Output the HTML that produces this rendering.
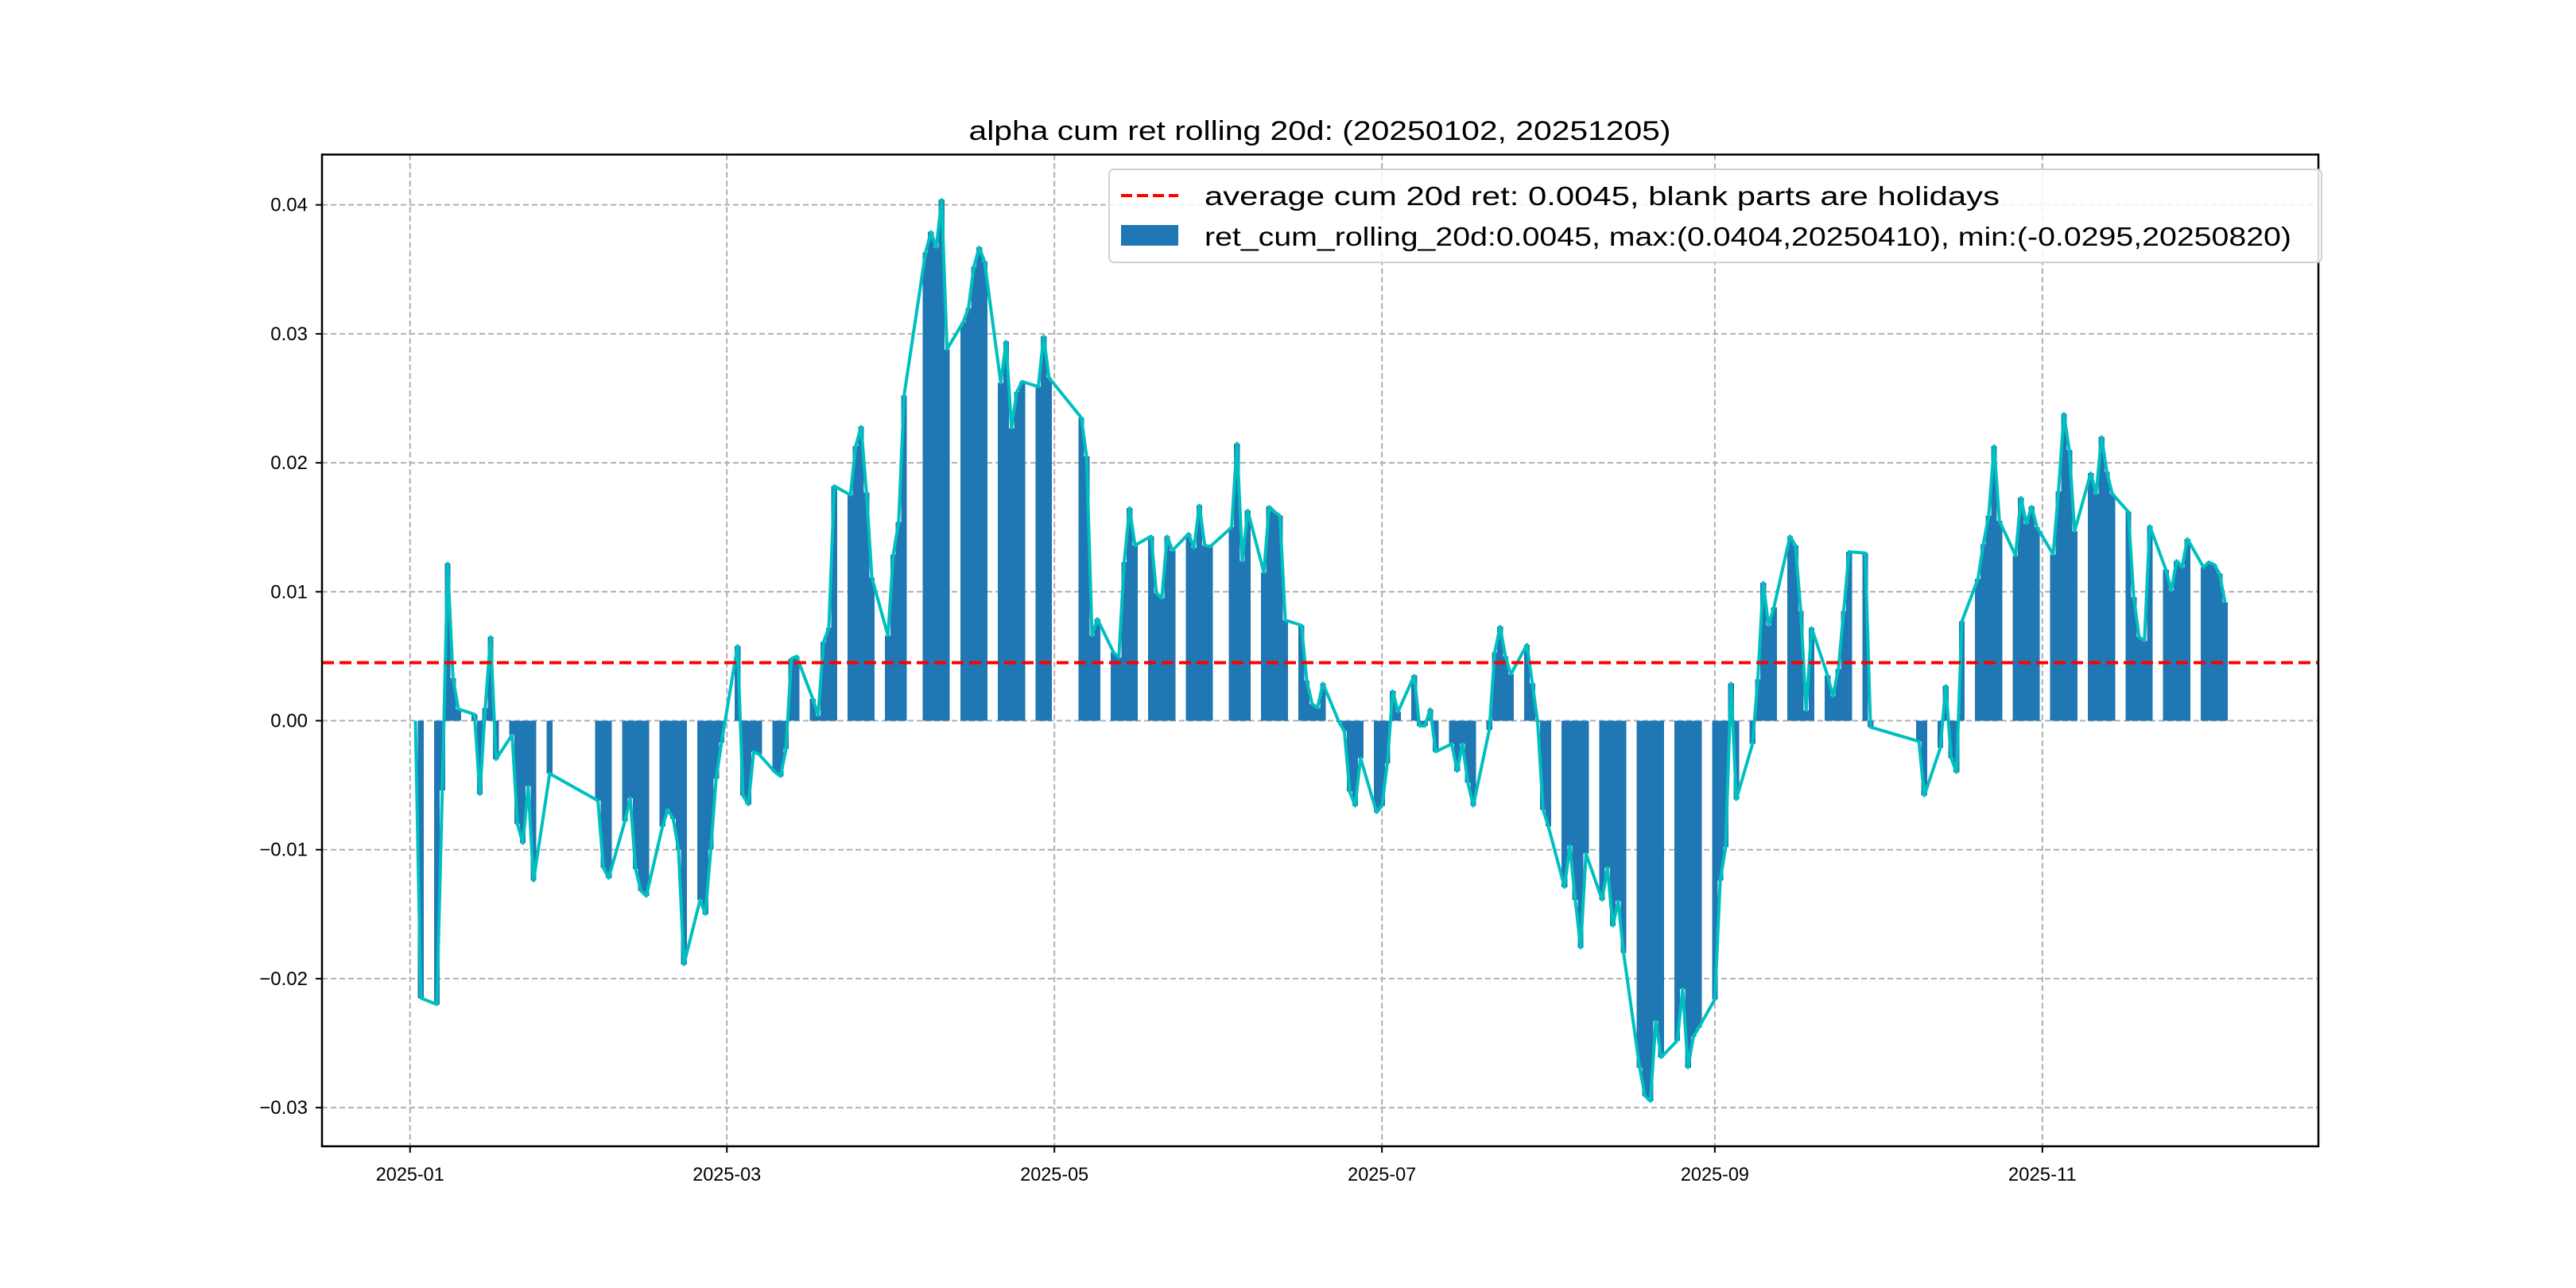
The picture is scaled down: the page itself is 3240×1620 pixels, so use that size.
<!DOCTYPE html>
<html><head><meta charset="utf-8"><style>
html,body{margin:0;padding:0;background:#fff;}
svg{display:block;font-family:"Liberation Sans","Noto Sans CJK SC",sans-serif;}
</style></head><body>
<svg id="chart" width="3240" height="1620" viewBox="0 0 3240 1620" xmlns="http://www.w3.org/2000/svg">
<rect width="3240" height="1620" fill="#fff"/>
<text x="1660" y="176" font-size="34" text-anchor="middle" textLength="883" lengthAdjust="spacingAndGlyphs">alpha cum ret rolling 20d: (20250102, 20251205)</text>
<g id="grid"></g>
<g id="bars" shape-rendering="crispEdges"></g>
<g id="lines"></g>
<g id="axes"></g>
<g id="legend">
<rect x="1395" y="213" width="1525" height="117" rx="6" fill="#fff" fill-opacity="0.85" stroke="#d0d0d0" stroke-width="2"/>
<line x1="1410" y1="246" x2="1482" y2="246" stroke="#ff0000" stroke-width="4" stroke-dasharray="14,6"/>
<text x="1515" y="258" font-size="33" textLength="1000" lengthAdjust="spacingAndGlyphs">average cum 20d ret: 0.0045, blank parts are holidays</text>
<rect x="1410" y="283" width="72" height="26" fill="#1f77b4"/>
<text x="1515" y="309" font-size="33" textLength="1367" lengthAdjust="spacingAndGlyphs">ret_cum_rolling_20d:0.0045, max:(0.0404,20250410), min:(-0.0295,20250820)</text>
</g>
</svg>
<script>
const dates = ["2025-01-02","2025-01-03","2025-01-06","2025-01-07","2025-01-08","2025-01-09","2025-01-10","2025-01-13","2025-01-14","2025-01-15","2025-01-16","2025-01-17","2025-01-20","2025-01-21","2025-01-22","2025-01-23","2025-01-24","2025-01-27","2025-02-05","2025-02-06","2025-02-07","2025-02-10","2025-02-11","2025-02-12","2025-02-13","2025-02-14","2025-02-17","2025-02-18","2025-02-19","2025-02-20","2025-02-21","2025-02-24","2025-02-25","2025-02-26","2025-02-27","2025-02-28","2025-03-03","2025-03-04","2025-03-05","2025-03-06","2025-03-07","2025-03-10","2025-03-11","2025-03-12","2025-03-13","2025-03-14","2025-03-17","2025-03-18","2025-03-19","2025-03-20","2025-03-21","2025-03-24","2025-03-25","2025-03-26","2025-03-27","2025-03-28","2025-03-31","2025-04-01","2025-04-02","2025-04-03","2025-04-07","2025-04-08","2025-04-09","2025-04-10","2025-04-11","2025-04-14","2025-04-15","2025-04-16","2025-04-17","2025-04-18","2025-04-21","2025-04-22","2025-04-23","2025-04-24","2025-04-25","2025-04-28","2025-04-29","2025-04-30","2025-05-06","2025-05-07","2025-05-08","2025-05-09","2025-05-12","2025-05-13","2025-05-14","2025-05-15","2025-05-16","2025-05-19","2025-05-20","2025-05-21","2025-05-22","2025-05-23","2025-05-26","2025-05-27","2025-05-28","2025-05-29","2025-05-30","2025-06-03","2025-06-04","2025-06-05","2025-06-06","2025-06-09","2025-06-10","2025-06-11","2025-06-12","2025-06-13","2025-06-16","2025-06-17","2025-06-18","2025-06-19","2025-06-20","2025-06-23","2025-06-24","2025-06-25","2025-06-26","2025-06-27","2025-06-30","2025-07-01","2025-07-02","2025-07-03","2025-07-04","2025-07-07","2025-07-08","2025-07-09","2025-07-10","2025-07-11","2025-07-14","2025-07-15","2025-07-16","2025-07-17","2025-07-18","2025-07-21","2025-07-22","2025-07-23","2025-07-24","2025-07-25","2025-07-28","2025-07-29","2025-07-30","2025-07-31","2025-08-01","2025-08-04","2025-08-05","2025-08-06","2025-08-07","2025-08-08","2025-08-11","2025-08-12","2025-08-13","2025-08-14","2025-08-15","2025-08-18","2025-08-19","2025-08-20","2025-08-21","2025-08-22","2025-08-25","2025-08-26","2025-08-27","2025-08-28","2025-08-29","2025-09-01","2025-09-02","2025-09-03","2025-09-04","2025-09-05","2025-09-08","2025-09-09","2025-09-10","2025-09-11","2025-09-12","2025-09-15","2025-09-16","2025-09-17","2025-09-18","2025-09-19","2025-09-22","2025-09-23","2025-09-24","2025-09-25","2025-09-26","2025-09-29","2025-09-30","2025-10-09","2025-10-10","2025-10-13","2025-10-14","2025-10-15","2025-10-16","2025-10-17","2025-10-20","2025-10-21","2025-10-22","2025-10-23","2025-10-24","2025-10-27","2025-10-28","2025-10-29","2025-10-30","2025-10-31","2025-11-03","2025-11-04","2025-11-05","2025-11-06","2025-11-07","2025-11-10","2025-11-11","2025-11-12","2025-11-13","2025-11-14","2025-11-17","2025-11-18","2025-11-19","2025-11-20","2025-11-21","2025-11-24","2025-11-25","2025-11-26","2025-11-27","2025-11-28","2025-12-01","2025-12-02","2025-12-03","2025-12-04","2025-12-05"];
const values = [0,-0.0215,-0.022,-0.0054,0.0122,0.0033,0.0009,0.0005,-0.0057,0.001,0.0065,-0.003,-0.0011,-0.008,-0.0095,-0.0051,-0.0124,-0.0041,-0.0062,-0.0114,-0.0122,-0.0078,-0.006,-0.0115,-0.0132,-0.0136,-0.0082,-0.0069,-0.0076,-0.01,-0.0189,-0.0139,-0.015,-0.01,-0.0045,-0.0017,0.0058,-0.0058,-0.0065,-0.0024,-0.0026,-0.004,-0.0043,-0.0022,0.0048,0.005,0.0017,0.0004,0.0061,0.0072,0.0182,0.0175,0.0213,0.0228,0.0177,0.0111,0.0066,0.0129,0.0154,0.0252,0.0363,0.0379,0.0367,0.0404,0.0288,0.0309,0.032,0.0352,0.0367,0.0356,0.0262,0.0294,0.0227,0.0255,0.0263,0.0259,0.0298,0.0266,0.0235,0.0205,0.0066,0.0079,0.0053,0.0049,0.0123,0.0165,0.0136,0.0143,0.0099,0.0095,0.0143,0.0132,0.0145,0.0134,0.0167,0.0136,0.0135,0.015,0.0215,0.0124,0.0163,0.0115,0.0166,0.0162,0.0159,0.0078,0.0074,0.0031,0.0013,0.001,0.0029,-0.0001,-0.0008,-0.0055,-0.0066,-0.0029,-0.0071,-0.0066,-0.0033,0.0023,0.0007,0.0035,-0.0004,-0.0004,0.0009,-0.0024,-0.0018,-0.0039,-0.0018,-0.0048,-0.0066,-0.0007,0.0053,0.0073,0.005,0.0036,0.0059,0.0029,-0.0001,-0.0069,-0.0082,-0.0129,-0.0097,-0.0139,-0.0176,-0.0103,-0.0139,-0.0114,-0.0159,-0.014,-0.018,-0.0269,-0.0291,-0.0295,-0.0233,-0.0261,-0.0248,-0.0208,-0.0269,-0.0245,-0.0238,-0.0216,-0.0124,-0.0098,0.0029,-0.0061,-0.0018,0.0032,0.0107,0.0074,0.0088,0.0143,0.0136,0.0085,0.0008,0.0072,0.0035,0.0019,0.004,0.0085,0.0131,0.013,-0.0005,-0.0016,-0.0058,-0.0021,0.0027,-0.0029,-0.004,0.0077,0.011,0.0137,0.0159,0.0213,0.0155,0.0128,0.0173,0.0153,0.0166,0.015,0.0129,0.0178,0.0238,0.021,0.0147,0.0192,0.0176,0.022,0.0193,0.0176,0.0162,0.0096,0.0065,0.0062,0.0151,0.0117,0.0101,0.0124,0.0119,0.0141,0.0119,0.0123,0.0121,0.0114,0.0092];
const averageValue = [0.0045];
const yTicks = [0.04,0.03,0.02,0.01,0.00,-0.01,-0.02,-0.03];
const yTickLabels = ["0.04","0.03","0.02","0.01","0.00","\u22120.01","\u22120.02","\u22120.03"];
const xTicks = ["2025-01-01","2025-03-01","2025-05-01","2025-07-01","2025-09-01","2025-11-01"];
const xTickLabels = ["2025-01","2025-03","2025-05","2025-07","2025-09","2025-11"];

const NS="http://www.w3.org/2000/svg";
const L=405,R=2916,T=194.4,B=1441.8;
const X0=-16.4,X1=355.4,Y0=-0.0330,Y1=0.0439;
const base=Date.UTC(2025,0,1);
function dayOf(s){const p=s.split('-');return (Date.UTC(+p[0],+p[1]-1,+p[2])-base)/86400000;}
function xs(d){return L+(d-X0)/(X1-X0)*(R-L);}
function ys(v){return B-(v-Y0)/(Y1-Y0)*(B-T);}
function mk(tag,attrs,parent){const e=document.createElementNS(NS,tag);for(const k in attrs)e.setAttribute(k,attrs[k]);parent.appendChild(e);return e;}
const grid=document.getElementById('grid'),bars=document.getElementById('bars'),lines=document.getElementById('lines'),axes=document.getElementById('axes');

yTicks.forEach((t,i)=>{
  const y=ys(t);
  const g=mk('line',{x1:L,x2:R,y1:y,y2:y,stroke:'#b0b0b0','stroke-width':2,'stroke-dasharray':'7,4'},grid);
  
  
  const tk=mk('line',{x1:L-8,x2:L,y1:y,y2:y,stroke:'#000','stroke-width':2},axes);
  
  
  const tx=mk('text',{x:L-18,y:y+8,'font-size':24,'text-anchor':'end'},axes);
  tx.textContent=yTickLabels[i];
  
  
});
xTicks.forEach((t,i)=>{
  const x=xs(dayOf(t));
  const g=mk('line',{x1:x,x2:x,y1:T,y2:B,stroke:'#b0b0b0','stroke-width':2,'stroke-dasharray':'7,4'},grid);
  
  
  const tk=mk('line',{x1:x,x2:x,y1:B,y2:B+8,stroke:'#000','stroke-width':2},axes);
  
  
  const tx=mk('text',{x:x,y:B+43,'font-size':24,'text-anchor':'middle',textLength:86,lengthAdjust:'spacingAndGlyphs'},axes);
  tx.textContent=xTickLabels[i];
  
  
});
const dayW=(R-L)/(X1-X0);
const bw=dayW*1.0+0.5;
const y0=ys(0);
dates.forEach((d,i)=>{
  const x=xs(dayOf(d)), y=ys(values[i]);
  const r=mk('rect',{x:x-bw/2,y:Math.min(y,y0),width:bw,height:Math.abs(y-y0),fill:'#1f77b4'},bars);
  
  
});
const pts=dates.map((d,i)=>xs(dayOf(d)).toFixed(1)+','+ys(values[i]).toFixed(1)).join(' ');
const pl=mk('polyline',{points:pts,fill:'none',stroke:'#00bfbf','stroke-width':4,'stroke-linejoin':'round'},lines);


const ya=ys(averageValue[0]);
const av=mk('line',{x1:L,x2:R,y1:ya,y2:ya,stroke:'#ff0000','stroke-width':4,'stroke-dasharray':'15,7'},lines);


const fr=mk('rect',{x:L,y:T,width:R-L,height:B-T,fill:'none',stroke:'#000','stroke-width':2.5},axes);


</script>
</body></html>
